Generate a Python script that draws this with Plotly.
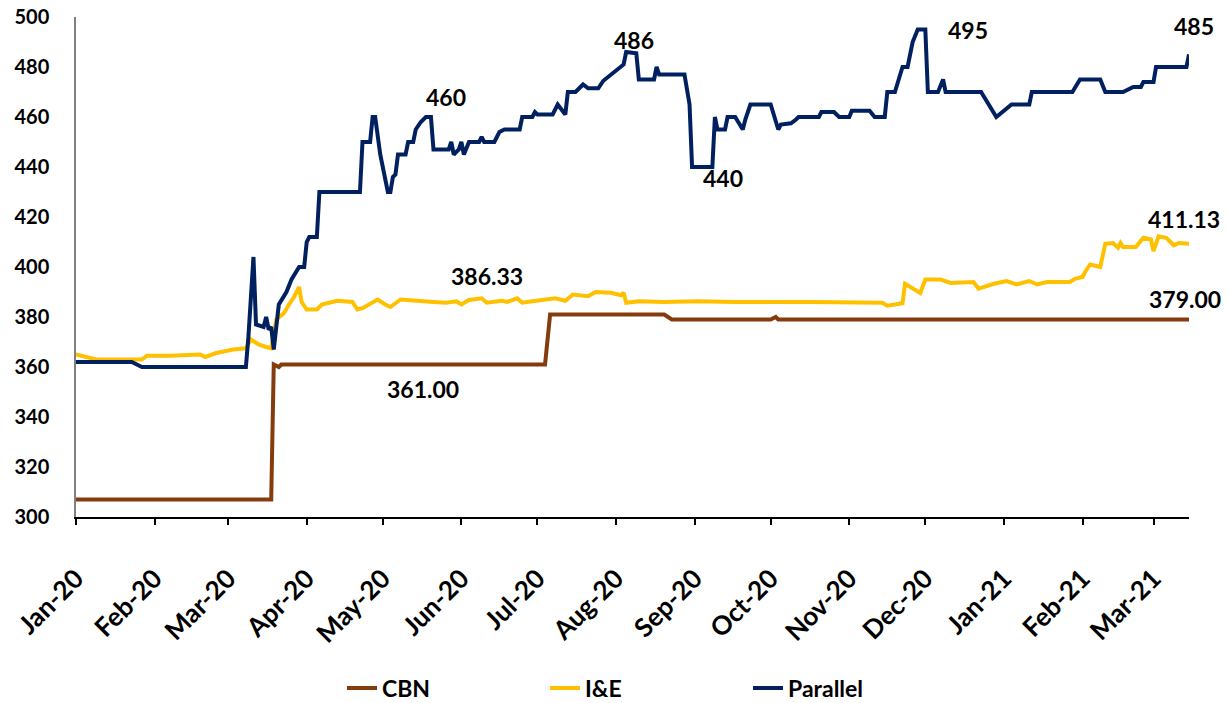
import plotly.graph_objects as go

# Parallel market rate (NGN/USD)
par_dates = [
    "2020-01-01", "2020-01-23", "2020-01-27", "2020-03-08", "2020-03-09", "2020-03-11",
    "2020-03-12", "2020-03-15", "2020-03-16", "2020-03-17", "2020-03-18", "2020-03-19",
    "2020-03-21", "2020-03-23", "2020-03-24", "2020-03-26", "2020-03-29", "2020-03-31",
    "2020-04-01", "2020-04-02", "2020-04-05", "2020-04-06", "2020-04-22", "2020-04-23",
    "2020-04-26", "2020-04-27", "2020-04-28", "2020-04-30", "2020-05-03", "2020-05-04",
    "2020-05-05", "2020-05-06", "2020-05-07", "2020-05-10", "2020-05-11", "2020-05-13",
    "2020-05-14", "2020-05-16", "2020-05-18", "2020-05-20", "2020-05-21", "2020-05-27",
    "2020-05-28", "2020-05-29", "2020-05-31", "2020-06-01", "2020-06-02", "2020-06-04",
    "2020-06-08", "2020-06-09", "2020-06-10", "2020-06-14", "2020-06-16", "2020-06-18",
    "2020-06-24", "2020-06-25", "2020-06-29", "2020-06-30", "2020-07-01", "2020-07-07",
    "2020-07-09", "2020-07-12", "2020-07-13", "2020-07-16", "2020-07-19", "2020-07-21",
    "2020-07-25", "2020-07-27", "2020-07-30", "2020-08-03", "2020-08-04", "2020-08-05",
    "2020-08-09", "2020-08-10", "2020-08-16", "2020-08-17", "2020-08-18", "2020-08-28",
    "2020-08-30", "2020-08-31", "2020-09-08", "2020-09-09", "2020-09-10", "2020-09-13",
    "2020-09-14", "2020-09-17", "2020-09-20", "2020-09-21", "2020-09-23", "2020-10-01",
    "2020-10-04", "2020-10-05", "2020-10-09", "2020-10-11", "2020-10-12", "2020-10-20",
    "2020-10-21", "2020-10-26", "2020-10-28", "2020-11-01", "2020-11-02", "2020-11-09",
    "2020-11-11", "2020-11-15", "2020-11-16", "2020-11-19", "2020-11-22", "2020-11-24",
    "2020-11-26", "2020-11-28", "2020-12-01", "2020-12-02", "2020-12-06", "2020-12-08",
    "2020-12-09", "2020-12-23", "2020-12-29", "2021-01-04", "2021-01-11", "2021-01-12",
    "2021-01-28", "2021-01-31", "2021-02-08", "2021-02-10", "2021-02-17", "2021-02-21",
    "2021-02-24", "2021-02-25", "2021-03-01", "2021-03-02", "2021-03-14", "2021-03-15",
]
par_values = [
    362, 362, 360, 360, 372, 404,
    377, 376, 380, 375, 376, 367,
    385, 388, 390, 395, 400, 400,
    410, 412, 412, 430, 430, 450,
    450, 460, 460, 445, 430, 430,
    436, 437, 445, 445, 450, 450,
    455, 458, 460, 460, 447, 447,
    450, 445, 447, 450, 445, 450,
    450, 452, 450, 450, 454, 455,
    455, 460, 460, 462, 461, 461,
    465, 461, 470, 470, 473, 471.5,
    471.5, 474.5, 477, 480, 481, 486,
    485.5, 475, 475, 480, 477, 477,
    465, 440, 440, 460, 455, 455,
    460, 460, 455, 459, 465, 465,
    455, 457, 457.5, 459, 460, 460,
    462, 462, 460, 460, 462.5, 462.5,
    460, 460, 470, 470, 480, 480,
    490, 495, 495, 470, 470, 475,
    470, 470, 460, 465, 465, 470,
    470, 475, 475, 470, 470, 472,
    472, 474, 474, 480, 480, 485,
]

# CBN official rate
cbn_dates = [
    "2020-01-01", "2020-03-18", "2020-03-19", "2020-03-21", "2020-03-22", "2020-07-04",
    "2020-07-06", "2020-08-20", "2020-08-23", "2020-10-01", "2020-10-03", "2020-10-04",
    "2021-03-15",
]
cbn_values = [307, 307, 361, 360, 361, 361, 381, 381, 379, 379, 380, 379, 379]

# I&E window rate
ie_dates = [
    "2020-01-01", "2020-01-06", "2020-01-09", "2020-01-27", "2020-01-29", "2020-02-07",
    "2020-02-19", "2020-02-21", "2020-02-25", "2020-03-03", "2020-03-08", "2020-03-10",
    "2020-03-13", "2020-03-16", "2020-03-18", "2020-03-20", "2020-03-23", "2020-03-25",
    "2020-03-27", "2020-03-29", "2020-03-30", "2020-04-01", "2020-04-05", "2020-04-07",
    "2020-04-13", "2020-04-19", "2020-04-21", "2020-04-23", "2020-04-27", "2020-04-29",
    "2020-05-02", "2020-05-04", "2020-05-08", "2020-05-13", "2020-05-21", "2020-05-26",
    "2020-05-30", "2020-06-01", "2020-06-04", "2020-06-09", "2020-06-11", "2020-06-17",
    "2020-06-19", "2020-06-23", "2020-06-25", "2020-06-29", "2020-07-08", "2020-07-12",
    "2020-07-15", "2020-07-21", "2020-07-24", "2020-07-30", "2020-08-03", "2020-08-04",
    "2020-08-05", "2020-08-10", "2020-08-20", "2020-09-02", "2020-09-17", "2020-10-17",
    "2020-11-14", "2020-11-16", "2020-11-22", "2020-11-23", "2020-11-26", "2020-11-29",
    "2020-12-01", "2020-12-07", "2020-12-11", "2020-12-20", "2020-12-22", "2020-12-28",
    "2021-01-02", "2021-01-06", "2021-01-11", "2021-01-14", "2021-01-18", "2021-01-27",
    "2021-01-29", "2021-02-01", "2021-02-02", "2021-02-04", "2021-02-08", "2021-02-10",
    "2021-02-13", "2021-02-15", "2021-02-16", "2021-02-17", "2021-02-22", "2021-02-25",
    "2021-02-28", "2021-03-01", "2021-03-03", "2021-03-06", "2021-03-09", "2021-03-11",
    "2021-03-15",
]
ie_values = [
    365, 364, 363, 363, 364.5, 364.5,
    365, 364, 365.5, 367, 367.5, 371,
    369, 368, 367.5, 379, 381.5, 385,
    388, 392, 386, 383, 383, 385,
    386.5, 386, 383, 383.5, 386, 387,
    385, 384, 387, 386.5, 386, 385.7,
    386.3, 385, 386.8, 387.5, 385.7, 386.5,
    386, 387.5, 385.7, 386.3, 387.5, 386.5,
    389, 388.3, 390, 389.7, 388.7, 389.7,
    385.7, 386.3, 386, 386.3, 386, 386,
    385.7, 384.5, 385.5, 393.3, 391.3, 389.6,
    395, 395, 393.6, 394, 391.3, 393.3,
    394.4, 393, 394.4, 393, 394, 394,
    395.3, 396, 398, 401, 400, 409.3,
    409.6, 407.7, 409.6, 408, 408, 411.7,
    411, 406.4, 412.3, 411.7, 408.7, 409.6,
    409.3,
]

# value labels
label_dates = ["2020-05-26", "2020-08-08", "2020-09-12", "2020-12-18", "2021-03-15",
               "2020-06-11", "2020-05-17", "2021-03-15", "2021-03-15"]
label_y = [468, 490.8, 435.6, 494.8, 496.4, 396.4, 351.2, 419.2, 387.2]
label_text = ["460", "486", "440", "495", "485", "386.33", "361.00", "411.13", "379.00"]
label_anchor = ["center"] * 4 + ["right", "center", "center", "right", "right"]
label_shift = [0, 0, 0, 0, 27, 0, 0, 33, 34]

FONT = "Lato"

fig = go.Figure()
fig.add_trace(go.Scatter(x=cbn_dates, y=cbn_values, mode="lines", name="CBN",
                         line=dict(color="#843C0C", width=4)))
fig.add_trace(go.Scatter(x=ie_dates, y=ie_values, mode="lines", name="I&E",
                         line=dict(color="#FFC000", width=4)))
fig.add_trace(go.Scatter(x=par_dates, y=par_values, mode="lines", name="Parallel",
                         line=dict(color="#002060", width=4)))

for d, y, t, a, s in zip(label_dates, label_y, label_text, label_anchor, label_shift):
    fig.add_annotation(x=d, y=y, text=t, showarrow=False, xanchor=a, xshift=s,
                       font=dict(family=FONT, size=23, color="black", weight="bold"))

fig.update_layout(
    width=1228, height=703,
    margin=dict(l=76, r=39, t=17, b=186, autoexpand=False),
    plot_bgcolor="white", paper_bgcolor="white",
    font=dict(family=FONT, color="black"),
    showlegend=True,
    legend=dict(orientation="h", xref="container", x=0.2785, xanchor="left",
                yref="container", y=0.0213, yanchor="middle",
                font=dict(family=FONT, size=23, weight="bold"), entrywidth=158,
                traceorder="normal"),
)
fig.update_xaxes(
    type="date", range=["2020-01-01", "2021-03-15"], automargin=False,
    tick0="2020-01-01", dtick="M1", tickformat="%b-%y", tickangle=-45,
    showline=True, linecolor="black", linewidth=2,
    ticks="outside", ticklen=6, tickcolor="black", tickwidth=1.5,
    showgrid=False, zeroline=False, ticklabelstandoff=28,
    tickfont=dict(family=FONT, size=26, weight="bold"),
)
fig.update_yaxes(
    range=[300, 500], dtick=20, automargin=False,
    showline=True, linecolor="#7f7f7f", linewidth=1.5,
    ticks="outside", ticklen=21, tickcolor="rgba(0,0,0,0)",
    showgrid=False, zeroline=False, ticklabeloverflow="allow",
    tickfont=dict(family=FONT, size=20, weight="bold"),
)

# drop the default 8px page margin so the figure fills the window; no modebar
fig.write_html("out.html", config={"displayModeBar": False},
               post_script="document.body.style.margin = '0';")
